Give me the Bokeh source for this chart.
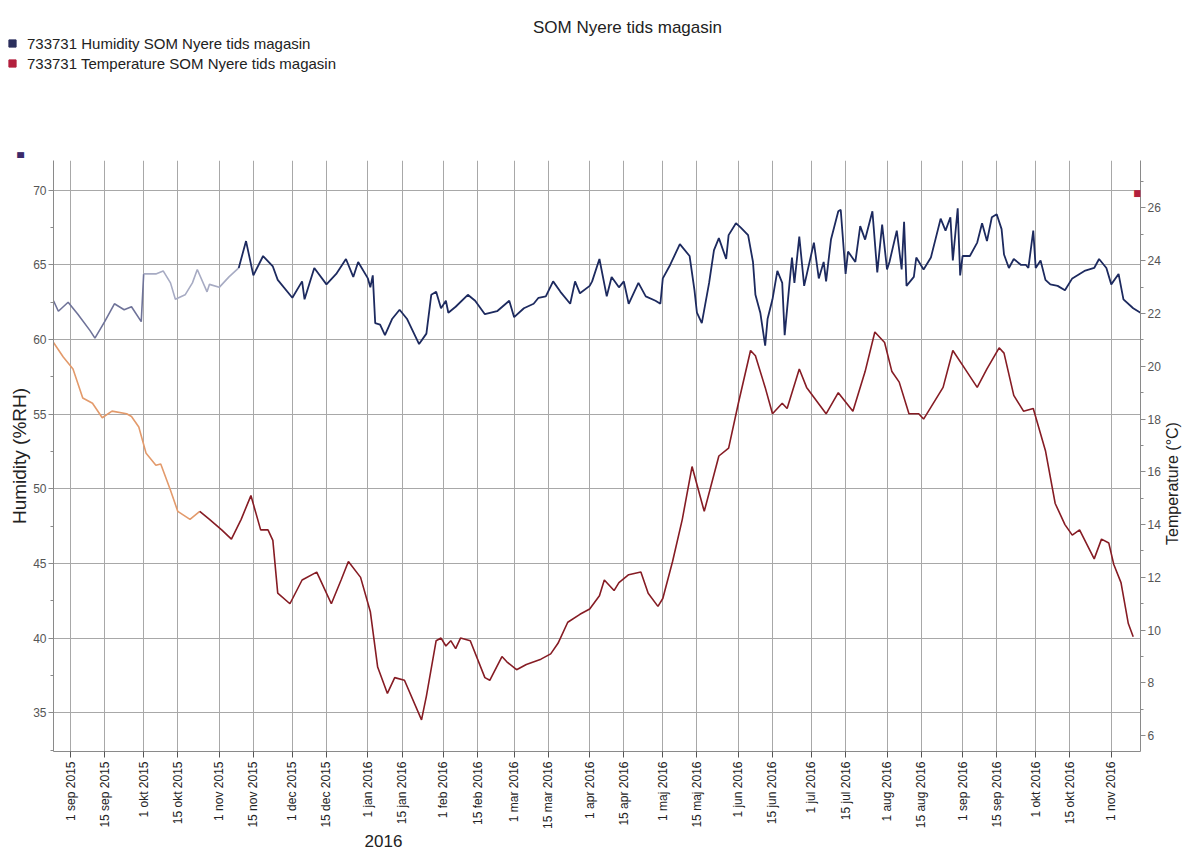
import pandas as pd
from math import pi
from bokeh.plotting import figure
from bokeh.layouts import column, row
from bokeh.models import (Range1d, LinearAxis, FixedTicker, SingleIntervalTicker,
                          Label, ColumnDataSource, Legend, LegendItem)
from bokeh.embed import file_html
from bokeh.resources import INLINE

# ---- logger 733731, SOM Nyere tids magasin ----
hum_dates = [
    "2015-08-25", "2015-08-27", "2015-08-31", "2015-09-04", "2015-09-09", "2015-09-11",
    "2015-09-15", "2015-09-19", "2015-09-23", "2015-09-26", "2015-09-30", "2015-10-01",
    "2015-10-06", "2015-10-09", "2015-10-12", "2015-10-14", "2015-10-18", "2015-10-21",
    "2015-10-23", "2015-10-27", "2015-10-28", "2015-11-01", "2015-11-05", "2015-11-09",
    "2015-11-12", "2015-11-15", "2015-11-19", "2015-11-23", "2015-11-25", "2015-12-01",
    "2015-12-05", "2015-12-06", "2015-12-10", "2015-12-15", "2015-12-19", "2015-12-23",
    "2015-12-26", "2015-12-28", "2016-01-01", "2016-01-02", "2016-01-03", "2016-01-04",
    "2016-01-06", "2016-01-08", "2016-01-11", "2016-01-14", "2016-01-17", "2016-01-22",
    "2016-01-25", "2016-01-27", "2016-01-29", "2016-01-31", "2016-02-02", "2016-02-03",
    "2016-02-06", "2016-02-11", "2016-02-14", "2016-02-18", "2016-02-23", "2016-02-28",
    "2016-03-01", "2016-03-05", "2016-03-09", "2016-03-11", "2016-03-14", "2016-03-17",
    "2016-03-20", "2016-03-24", "2016-03-26", "2016-03-28", "2016-04-01", "2016-04-02",
    "2016-04-05", "2016-04-08", "2016-04-10", "2016-04-13", "2016-04-15", "2016-04-17",
    "2016-04-21", "2016-04-24", "2016-04-28", "2016-04-30", "2016-05-01", "2016-05-04",
    "2016-05-08", "2016-05-12", "2016-05-14", "2016-05-15", "2016-05-17", "2016-05-20",
    "2016-05-22", "2016-05-24", "2016-05-27", "2016-05-28", "2016-05-31", "2016-06-02",
    "2016-06-05", "2016-06-07", "2016-06-08", "2016-06-10", "2016-06-12", "2016-06-13",
    "2016-06-15", "2016-06-17", "2016-06-19", "2016-06-20", "2016-06-22", "2016-06-23",
    "2016-06-24", "2016-06-26", "2016-06-28", "2016-07-02", "2016-07-04", "2016-07-06",
    "2016-07-07", "2016-07-09", "2016-07-12", "2016-07-13", "2016-07-15", "2016-07-16",
    "2016-07-19", "2016-07-21", "2016-07-23", "2016-07-26", "2016-07-28", "2016-07-30",
    "2016-08-01", "2016-08-02", "2016-08-05", "2016-08-07", "2016-08-08", "2016-08-09",
    "2016-08-12", "2016-08-13", "2016-08-16", "2016-08-19", "2016-08-21", "2016-08-23",
    "2016-08-25", "2016-08-27", "2016-08-28", "2016-08-30", "2016-08-31", "2016-09-01",
    "2016-09-04", "2016-09-07", "2016-09-09", "2016-09-11", "2016-09-13", "2016-09-15",
    "2016-09-17", "2016-09-18", "2016-09-20", "2016-09-22", "2016-09-25", "2016-09-27",
    "2016-09-28", "2016-09-30", "2016-10-01", "2016-10-03", "2016-10-05", "2016-10-07",
    "2016-10-10", "2016-10-13", "2016-10-16", "2016-10-21", "2016-10-25", "2016-10-27",
    "2016-10-30", "2016-11-01", "2016-11-04", "2016-11-06", "2016-11-10", "2016-11-13",
]
hum_values = [
    62.6, 61.9, 62.5, 61.7, 60.6, 60.1,
    61.2, 62.4, 62.0, 62.2, 61.2, 64.4,
    64.4, 64.6, 63.8, 62.7, 63.0, 63.8,
    64.7, 63.2, 63.7, 63.5, 64.2, 64.8,
    66.6, 64.3, 65.6, 64.9, 64.0, 62.8,
    63.9, 62.7, 64.8, 63.7, 64.4, 65.4,
    64.2, 65.2, 64.1, 63.5, 64.3, 61.1,
    61.0, 60.3, 61.4, 62.0, 61.4, 59.7,
    60.4, 63.0, 63.2, 62.1, 62.6, 61.8,
    62.2, 63.0, 62.6, 61.7, 61.9, 62.6,
    61.5, 62.1, 62.4, 62.8, 62.9, 63.9,
    63.2, 62.4, 63.9, 63.1, 63.6, 63.9,
    65.4, 62.9, 64.2, 63.5, 63.9, 62.4,
    63.8, 62.9, 62.6, 62.4, 64.1, 65.0,
    66.4, 65.6, 63.3, 61.8, 61.1, 63.8,
    66.0, 66.8, 65.4, 67.0, 67.8, 67.5,
    67.0, 65.2, 63.0, 61.8, 59.6, 61.4,
    62.7, 64.6, 63.8, 60.3, 63.8, 65.5,
    63.8, 66.9, 63.6, 66.5, 64.1, 65.2,
    63.9, 66.7, 68.6, 68.7, 64.4, 65.9,
    65.2, 67.6, 66.7, 68.6, 64.5, 67.7,
    64.7, 65.2, 67.3, 64.7, 67.9, 63.6,
    64.2, 65.5, 64.7, 65.5, 66.8, 68.1,
    67.3, 68.2, 65.3, 68.8, 64.3, 65.6,
    65.6, 66.5, 67.8, 66.6, 68.2, 68.4,
    67.4, 65.7, 64.8, 65.4, 65.0, 65.0,
    64.8, 67.3, 64.8, 65.3, 64.0, 63.7,
    63.6, 63.3, 64.1, 64.6, 64.8, 65.4,
    64.8, 63.7, 64.4, 62.7, 62.1, 61.8,
]

temp_dates = [
    "2015-08-25", "2015-08-29", "2015-09-02", "2015-09-06", "2015-09-10", "2015-09-14",
    "2015-09-18", "2015-09-24", "2015-09-26", "2015-09-29", "2015-10-02", "2015-10-06",
    "2015-10-08", "2015-10-12", "2015-10-15", "2015-10-20", "2015-10-24", "2015-10-28",
    "2015-11-02", "2015-11-06", "2015-11-10", "2015-11-14", "2015-11-18", "2015-11-21",
    "2015-11-23", "2015-11-25", "2015-11-30", "2015-12-05", "2015-12-11", "2015-12-13",
    "2015-12-17", "2015-12-21", "2015-12-24", "2015-12-29", "2016-01-02", "2016-01-05",
    "2016-01-09", "2016-01-12", "2016-01-16", "2016-01-23", "2016-01-25", "2016-01-29",
    "2016-01-31", "2016-02-02", "2016-02-04", "2016-02-06", "2016-02-08", "2016-02-12",
    "2016-02-18", "2016-02-20", "2016-02-25", "2016-02-27", "2016-03-02", "2016-03-06",
    "2016-03-12", "2016-03-16", "2016-03-19", "2016-03-23", "2016-03-28", "2016-04-01",
    "2016-04-05", "2016-04-07", "2016-04-11", "2016-04-13", "2016-04-17", "2016-04-22",
    "2016-04-25", "2016-04-29", "2016-05-01", "2016-05-05", "2016-05-09", "2016-05-13",
    "2016-05-18", "2016-05-24", "2016-05-28", "2016-06-01", "2016-06-06", "2016-06-08",
    "2016-06-12", "2016-06-15", "2016-06-19", "2016-06-21", "2016-06-26", "2016-06-29",
    "2016-07-07", "2016-07-12", "2016-07-18", "2016-07-23", "2016-07-27", "2016-07-31",
    "2016-08-03", "2016-08-06", "2016-08-10", "2016-08-14", "2016-08-16", "2016-08-24",
    "2016-08-28", "2016-09-02", "2016-09-07", "2016-09-11", "2016-09-16", "2016-09-18",
    "2016-09-22", "2016-09-26", "2016-09-30", "2016-10-05", "2016-10-09", "2016-10-13",
    "2016-10-16", "2016-10-19", "2016-10-25", "2016-10-28", "2016-10-31", "2016-11-02",
    "2016-11-05", "2016-11-08", "2016-11-10",
]
temp_values = [
    20.9, 20.35, 19.9, 18.8, 18.6, 18.05,
    18.3, 18.2, 18.1, 17.7, 16.7, 16.25,
    16.3, 15.3, 14.5, 14.2, 14.5, 14.2,
    13.8, 13.45, 14.2, 15.1, 13.8, 13.8,
    13.4, 11.4, 11.0, 11.9, 12.2, 11.8,
    11.0, 11.9, 12.6, 12.0, 10.7, 8.6,
    7.6, 8.2, 8.1, 6.6, 7.5, 9.6,
    9.7, 9.4, 9.6, 9.3, 9.7, 9.6,
    8.2, 8.1, 9.0, 8.8, 8.5, 8.7,
    8.9, 9.1, 9.5, 10.3, 10.6, 10.8,
    11.3, 11.9, 11.5, 11.8, 12.1, 12.2,
    11.4, 10.9, 11.2, 12.6, 14.2, 16.2,
    14.5, 16.6, 16.9, 18.6, 20.6, 20.4,
    19.2, 18.2, 18.6, 18.4, 19.9, 19.2,
    18.2, 19.0, 18.3, 19.8, 21.3, 20.9,
    19.8, 19.4, 18.2, 18.2, 18.0, 19.2,
    20.6, 19.9, 19.2, 19.9, 20.7, 20.5,
    18.9, 18.3, 18.4, 16.8, 14.8, 14.0,
    13.6, 13.8, 12.7, 13.45, 13.3, 12.5,
    11.8, 10.25, 9.75,
]

# x-axis ticks: 1st and 15th of each month, Danish month abbreviations
month_names = ["jan", "feb", "mar", "apr", "maj", "jun",
               "jul", "aug", "sep", "okt", "nov", "dec"]
tick_dates = [d for d in pd.date_range("2015-09-01", "2016-11-01", freq="D")
              if d.day in (1, 15)]
tick_labels = [f"{d.day} {month_names[d.month - 1]} {d.year}" for d in tick_dates]

title_text = "SOM Nyere tids magasin"
series_names = ["733731 Humidity SOM Nyere tids magasin",
                "733731 Temperature SOM Nyere tids magasin"]
hum_axis_title = "Humidity (%RH)"
temp_axis_title = "Temperature (°C)"

FONT = "Liberation Sans"
HUM_DARK = "#1d2a5f"
TEMP_DARK = "#861c24"
HUM_KEY = "#2b2f5c"
TEMP_KEY = "#b3203d"
W, H = 1188, 851
HEAD_H, FOOT_H, RIGHT_W = 158, 20, 25
MAIN_W, MAIN_H = W - RIGHT_W, H - HEAD_H - FOOT_H


def ms(ts):
    return (pd.Timestamp(ts) - pd.Timestamp("1970-01-01")) / pd.Timedelta(milliseconds=1)


def no_frame_align(f):
    if "frame_align" in f.properties():
        f.frame_align = False


def strip(width, height):
    """A bare figure used as a text band; x and y are pixels, y downwards."""
    f = figure(width=width, height=height, output_backend="svg",
               toolbar_location=None,
               x_range=Range1d(0, width), y_range=Range1d(height, 0),
               x_axis_location=None, y_axis_location=None, min_border=0,
               min_border_left=0, min_border_right=0,
               min_border_top=0, min_border_bottom=0)
    f.outline_line_color = None
    f.grid.grid_line_color = None
    no_frame_align(f)
    return f


def text(fig, x, y, s, size, color="#222222", angle=0.0, align="center",
         font=FONT):
    fig.add_layout(Label(x=x, y=y, text=s, text_font=font, text_font_size=size,
                         text_color=color, angle=angle, text_align=align,
                         text_baseline="middle"))


# ---------------- header: title, legend, humidity-axis marker ----------------
head = strip(W, HEAD_H)
text(head, 627, 27, title_text, "17px")
nan = float("nan")
k_hum = head.scatter(x=[nan], y=[nan], marker="square", color=HUM_KEY)
k_tmp = head.scatter(x=[nan], y=[nan], marker="square", color=TEMP_KEY)
legend = Legend(items=[LegendItem(label=series_names[0], renderers=[k_hum]),
                       LegendItem(label=series_names[1], renderers=[k_tmp])],
                location=(3, HEAD_H - 73), orientation="vertical",
                border_line_color=None, background_fill_alpha=0,
                padding=0, margin=0, spacing=0, label_height=20,
                glyph_height=18, glyph_width=18, label_standoff=6,
                label_text_font=FONT, label_text_font_size="15px",
                label_text_color="#222222")
head.add_layout(legend)
text(head, 20, 154, "■", "9px", color="#3b2a6a", font="DejaVu Sans")

# ---------------- main chart ----------------
p = figure(width=MAIN_W, height=MAIN_H, x_axis_type="datetime",
           output_backend="svg", toolbar_location=None,
           x_range=Range1d(pd.Timestamp("2015-08-25"), pd.Timestamp("2016-11-13")),
           y_range=Range1d(32.4, 72.0),
           min_border_left=53, min_border_right=21,
           min_border_top=2, min_border_bottom=79)
no_frame_align(p)
p.extra_y_ranges = {"temp": Range1d(5.4, 27.8)}
p.outline_line_color = None
p.xgrid.grid_line_color = "#a8a8a8"
p.ygrid.grid_line_color = "#a8a8a8"

# bottom date axis
xa = p.xaxis[0]
xa.ticker = FixedTicker(ticks=[ms(d) for d in tick_dates])
xa.major_label_overrides = {ms(d): lab for d, lab in zip(tick_dates, tick_labels)}
xa.major_label_orientation = pi / 2
xa.major_label_text_font = FONT
xa.major_label_text_font_size = "12px"
xa.major_label_text_color = "#222222"
xa.major_label_standoff = 4
xa.major_tick_out = 6
xa.major_tick_in = 0
xa.minor_tick_out = 0
xa.axis_line_color = "#8a8a8a"
xa.major_tick_line_color = "#555555"


def style_value_axis(ax):
    ax.major_label_text_font = FONT
    ax.major_label_text_font_size = "12px"
    ax.major_label_text_color = "#555555"
    ax.axis_line_color = "#8a8a8a"
    ax.major_tick_line_color = "#8a8a8a"
    ax.minor_tick_line_color = "#8a8a8a"
    ax.major_tick_out = 5
    ax.major_tick_in = 0
    ax.minor_tick_out = 3
    ax.minor_tick_in = 0
    ax.major_label_standoff = 2


# left humidity axis with its title
ya = p.yaxis[0]
ya.ticker = SingleIntervalTicker(interval=5, num_minor_ticks=2)
style_value_axis(ya)
ya.axis_label = hum_axis_title
ya.axis_label_text_font = FONT
ya.axis_label_text_font_size = "19px"
ya.axis_label_text_font_style = "normal"
ya.axis_label_text_color = "#222222"
ya.axis_label_standoff = 0

# right temperature axis
ta = LinearAxis(y_range_name="temp",
                ticker=SingleIntervalTicker(interval=2, num_minor_ticks=2))
style_value_axis(ta)
p.add_layout(ta, "right")

hum = pd.DataFrame({"date": pd.to_datetime(hum_dates), "value": hum_values})
tmp = pd.DataFrame({"date": pd.to_datetime(temp_dates), "value": temp_values})


def segment(df, start, end):
    m = (df["date"] >= pd.Timestamp(start)) & (df["date"] <= pd.Timestamp(end))
    return ColumnDataSource(df[m])


# humidity: faint early print, then dark
p.line("date", "value", source=segment(hum, "2015-01-01", "2015-10-01"),
       line_color="#6f7399", line_width=1.6)
p.line("date", "value", source=segment(hum, "2015-10-01", "2015-11-09"),
       line_color="#a7abc3", line_width=1.6)
p.line("date", "value", source=segment(hum, "2015-11-09", "2017-01-01"),
       line_color=HUM_DARK, line_width=1.8)

# temperature: orange early print, then dark red
p.line("date", "value", source=segment(tmp, "2015-01-01", "2015-10-24"),
       line_color="#e39a6b", line_width=1.6, y_range_name="temp")
p.line("date", "value", source=segment(tmp, "2015-10-24", "2017-01-01"),
       line_color=TEMP_DARK, line_width=1.6, y_range_name="temp")

# temperature-axis marker in the top right corner of the frame
p.add_layout(Label(x=1084, y=559, x_units="screen", y_units="screen", text="■",
                   text_font="DejaVu Sans", text_font_size="9px",
                   text_color=TEMP_KEY, text_align="center",
                   text_baseline="middle"))

# ---------------- right band: temperature axis title (reads upwards) ----------------
side = strip(RIGHT_W, MAIN_H)
text(side, 9, 483 - HEAD_H, temp_axis_title, "16px", angle=pi / 2)

# ---------------- footer: year marker ----------------
foot = strip(W, FOOT_H)
text(foot, 383, 9, "2016", "17px")

layout = column(head, row(p, side, spacing=0), foot, spacing=0)
open("out.html", "w").write(file_html(layout, INLINE))
